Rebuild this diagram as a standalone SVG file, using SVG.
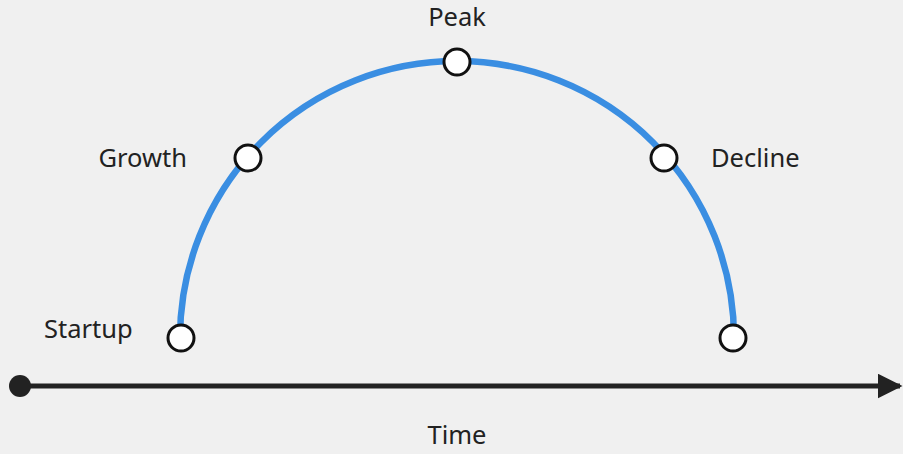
<svg xmlns="http://www.w3.org/2000/svg" width="903" height="454" viewBox="0 0 903 454">
<defs>
<style>
.lbl{font-family:"Noto Sans","Open Sans",sans-serif;font-size:25.5px;fill:#222}
.node{fill:#fff;stroke:#111;stroke-width:3}
</style>
<marker id="arr" viewBox="0 0 10 10" refX="9" refY="5" markerWidth="5" markerHeight="5" markerUnits="strokeWidth" orient="auto">
<path d="M0,0 L10,5 L0,10 Z" fill="#222"/>
</marker>
</defs>
<rect width="903" height="454" fill="#f0f0f0"/>
<g id="connectors">
<path d="M180,338 A277,277 0 0 1 734,338" fill="none" stroke="#3a8ee2" stroke-width="6.5"/>
<line x1="20" y1="386" x2="900" y2="386" stroke="#222" stroke-width="5" marker-end="url(#arr)"/>
<circle cx="20" cy="386" r="11" fill="#222"/>
</g>
<g id="startup"><circle class="node" cx="181" cy="338" r="13"/><text class="lbl" x="44" y="338">Startup</text></g>
<g id="growth"><circle class="node" cx="248" cy="158" r="13"/><text class="lbl" x="187" y="167" text-anchor="end">Growth</text></g>
<g id="peak"><circle class="node" cx="457" cy="62" r="13"/><text class="lbl" x="457" y="26" text-anchor="middle">Peak</text></g>
<g id="decline"><circle class="node" cx="664" cy="158" r="13"/><text class="lbl" x="711" y="167">Decline</text></g>
<g id="end"><circle class="node" cx="733" cy="338" r="13"/></g>
<g id="time"><text class="lbl" x="457" y="444" text-anchor="middle">Time</text></g>
</svg>
